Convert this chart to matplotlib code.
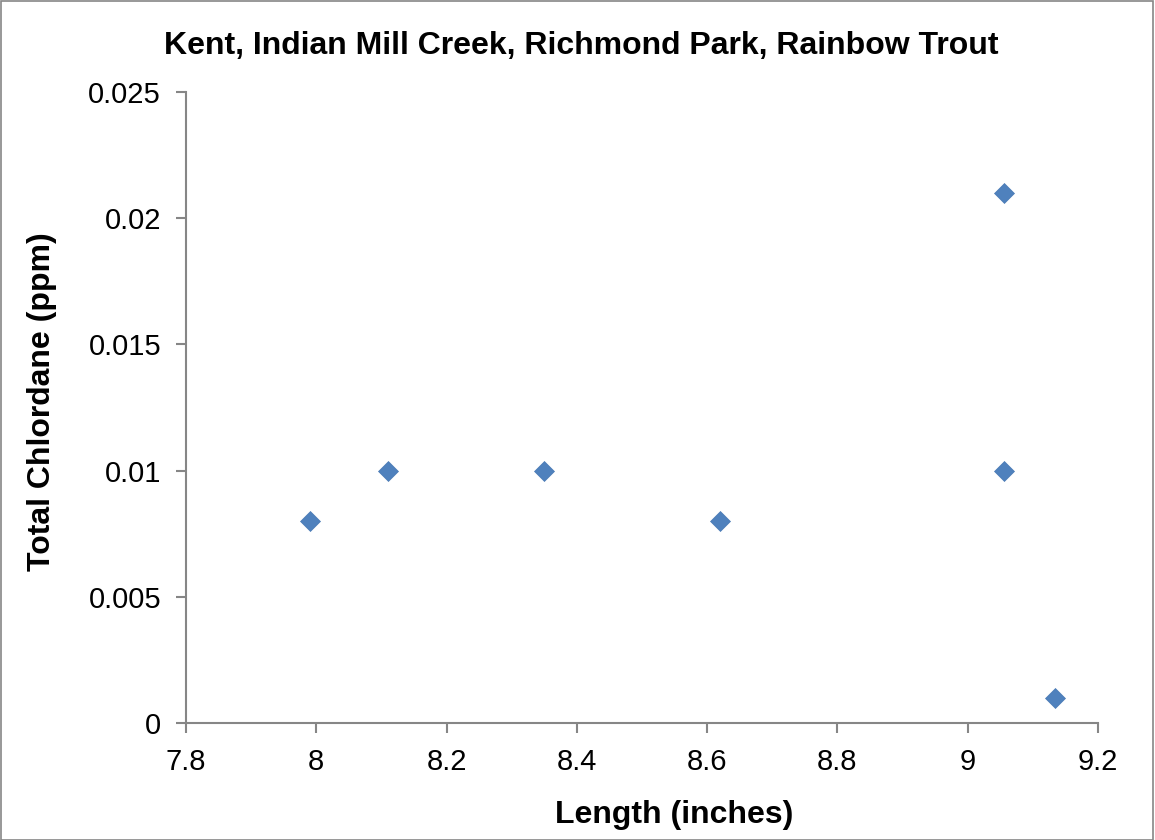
import matplotlib.pyplot as plt
from matplotlib.patches import Rectangle

plt.rcParams['font.family'] = ['Liberation Sans', 'DejaVu Sans']

# fish length (inches) vs total chlordane (ppm)
length = [7.99, 8.11, 8.35, 8.62, 9.055, 9.055, 9.134]
chlordane = [0.008, 0.010, 0.010, 0.008, 0.021, 0.010, 0.001]

xticks = [7.8, 8, 8.2, 8.4, 8.6, 8.8, 9, 9.2]
xtick_labels = ['7.8', '8', '8.2', '8.4', '8.6', '8.8', '9', '9.2']
yticks = [0, 0.005, 0.01, 0.015, 0.02, 0.025]
ytick_labels = ['0', '0.005', '0.01', '0.015', '0.02', '0.025']

fig = plt.figure(figsize=(11.55, 8.4), dpi=100)
ax = fig.add_axes([186 / 1155, 1 - 723 / 840, (1098 - 186) / 1155, (723 - 92) / 840])

ax.plot(length, chlordane, linestyle='none', marker='D', markersize=10.5,
        color='#4f81bd', markeredgecolor='#4a7ab5', markeredgewidth=0.5)

ax.set_xlim(7.8, 9.2)
ax.set_ylim(0, 0.025)
ax.set_xticks(xticks)
ax.set_xticklabels(xtick_labels)
ax.set_yticks(yticks)
ax.set_yticklabels(ytick_labels)

for s in ['top', 'right']:
    ax.spines[s].set_visible(False)
for s in ['left', 'bottom']:
    ax.spines[s].set_color('#868686')
    ax.spines[s].set_linewidth(1.5)
ax.tick_params(axis='both', direction='out', length=7, width=1.5, color='#868686',
               labelsize=21, pad=11)

fig.text(581 / 1155, 1 - 46 / 840, "Kent, Indian Mill Creek, Richmond Park, Rainbow Trout",
         ha='center', va='center', fontsize=23, fontweight='bold')
fig.text(674 / 1155, 1 - 815 / 840, "Length (inches)", ha='center', va='center',
         fontsize=23, fontweight='bold')
fig.text(42 / 1155, 1 - 402 / 840, "Total Chlordane (ppm)", ha='center', va='center',
         rotation=90, fontsize=23, fontweight='bold')

fig.patches.append(Rectangle((0.0005, 0.0005), 0.998, 0.998, transform=fig.transFigure,
                             fill=False, edgecolor='#868686', linewidth=1.2))

fig.savefig('out.png', dpi=100)
